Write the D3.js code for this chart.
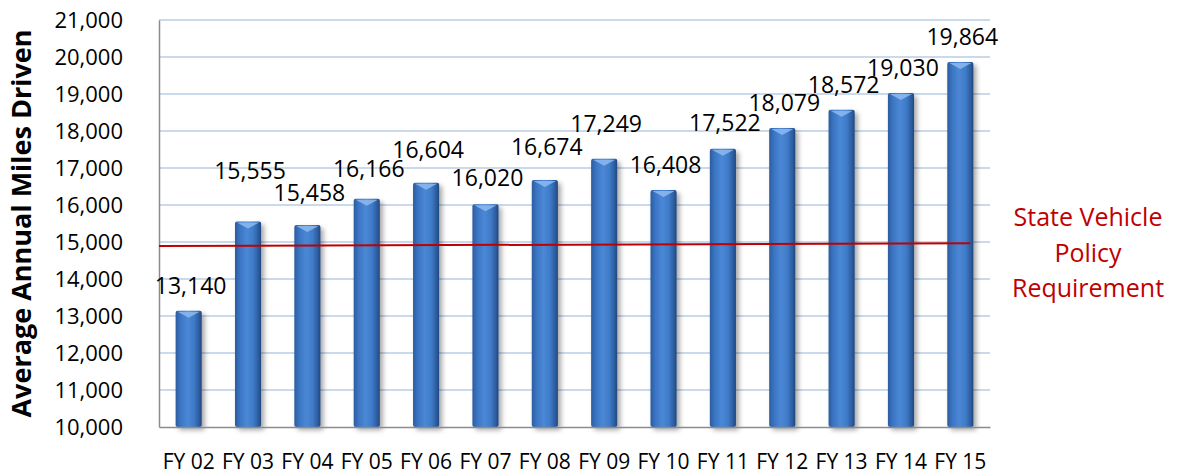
<!DOCTYPE html>
<html>
<head>
<meta charset="utf-8">
<script src="https://cdn.jsdelivr.net/npm/d3@7"></script>
<style>
  html, body { margin: 0; padding: 0; background: #ffffff; }
  svg { display: block; }
  text { font-family: "Open Sans", "Noto Sans", sans-serif; }
</style>
</head>
<body>
<div id="chart"></div>
<script>
// ---- data ----
const categories = ["FY 02","FY 03","FY 04","FY 05","FY 06","FY 07","FY 08","FY 09","FY 10","FY 11","FY 12","FY 13","FY 14","FY 15"];
const milesDriven = [13140, 15555, 15458, 16166, 16604, 16020, 16674, 17249, 16408, 17522, 18079, 18572, 19030, 19864];
const yTicks = [10000, 11000, 12000, 13000, 14000, 15000, 16000, 17000, 18000, 19000, 20000, 21000];
const policyLine = [14890, 14965]; // requirement line, start and end value
const yAxisTitle = "Average Annual Miles Driven";
const policyLabel = ["State Vehicle", "Policy", "Requirement"];

// ---- layout ----
const W = 1178, H = 474;
const plot = { left: 159, right: 990, top: 20, bottom: 427 };
// gap (px) between each bar top and its value label baseline, as placed in the original
const labelLift = [17, 42, 24, 22, 25, 18, 25, 27, 17, 18, 17, 17, 17, 17];

const svg = d3.select("#chart").append("svg").attr("width", W).attr("height", H);
const defs = svg.append("defs");

const grad = defs.append("linearGradient").attr("id", "barGrad")
  .attr("x1", "0%").attr("x2", "100%").attr("y1", "0%").attr("y2", "0%");
[["0%", "#2b5c9e"], ["18%", "#3a74c2"], ["45%", "#4a88d6"], ["70%", "#3f7bc8"], ["90%", "#2c5c9d"], ["100%", "#1f477f"]]
  .forEach(([o, c]) => grad.append("stop").attr("offset", o).attr("stop-color", c));

const shadow = defs.append("filter").attr("id", "shadow")
  .attr("x", "-30%").attr("y", "-10%").attr("width", "170%").attr("height", "130%");
shadow.append("feDropShadow").attr("dx", 3).attr("dy", 3).attr("stdDeviation", 2.5)
  .attr("flood-color", "#000").attr("flood-opacity", 0.35);

const x = d3.scaleBand().domain(categories).range([plot.left, plot.right])
  .paddingInner(0.56).paddingOuter(0.28);
const y = d3.scaleLinear().domain([10000, 21000]).range([plot.bottom, plot.top]);

// gridlines
svg.append("g").selectAll("line").data(yTicks.filter(t => t > 10000)).join("line")
  .attr("x1", plot.left).attr("x2", plot.right)
  .attr("y1", d => y(d)).attr("y2", d => y(d))
  .attr("stroke", "#b8cce4").attr("stroke-width", 1.6);

// y axis
const yAxis = svg.append("g").attr("transform", `translate(${plot.left},0)`)
  .call(d3.axisLeft(y).tickValues(yTicks).tickSize(0).tickPadding(36).tickFormat(d3.format(",")));
yAxis.select(".domain").attr("stroke", "#8c8c8c").attr("stroke-width", 1.5);
yAxis.selectAll("text").attr("font-size", 22).attr("fill", "#000")
  .style("font-family", "'Open Sans', sans-serif");

// bars
const bars = svg.append("g");
bars.selectAll("rect").data(milesDriven).join("rect")
  .attr("x", (d, i) => x(categories[i]))
  .attr("y", d => y(d))
  .attr("width", x.bandwidth())
  .attr("height", d => plot.bottom - y(d))
  .attr("rx", 2)
  .attr("fill", "url(#barGrad)")
  .attr("filter", "url(#shadow)");

// top highlight caps
bars.selectAll("path.cap").data(milesDriven).join("path").attr("class", "cap")
  .attr("d", (d, i) => {
    const x0 = x(categories[i]), w = x.bandwidth(), t = y(d);
    return `M${x0 + 2},${t + 1} L${x0 + w - 2},${t + 1} L${x0 + w / 2},${t + 7} Z`;
  })
  .attr("fill", "#8dbaf0").attr("opacity", 0.85);

// x axis
const xAxis = svg.append("g").attr("transform", `translate(0,${plot.bottom})`)
  .call(d3.axisBottom(x).tickSize(0).tickPadding(27));
xAxis.select(".domain").attr("stroke", "#8c8c8c").attr("stroke-width", 1.5);
xAxis.selectAll("text").attr("font-size", 21).attr("fill", "#000")
  .style("font-family", "'Open Sans', sans-serif");

// policy line
const lastCat = categories[categories.length - 1];
svg.append("line")
  .attr("x1", plot.left).attr("x2", x(lastCat) + x.bandwidth() - 3)
  .attr("y1", y(policyLine[0])).attr("y2", y(policyLine[1]))
  .attr("stroke", "#c00000").attr("stroke-width", 2);

// value labels
svg.append("g").selectAll("text").data(milesDriven).join("text")
  .attr("x", (d, i) => x(categories[i]) + x.bandwidth() / 2 + 2)
  .attr("y", (d, i) => y(d) - labelLift[i])
  .attr("text-anchor", "middle")
  .attr("font-size", 23).attr("fill", "#000")
  .text(d => d3.format(",")(d));

// y axis title
svg.append("text")
  .attr("transform", `translate(31,223.5) rotate(-90)`)
  .attr("text-anchor", "middle")
  .attr("font-size", 27).attr("font-weight", "bold").attr("fill", "#000")
  .text(yAxisTitle);

// policy label
svg.append("g").selectAll("text").data(policyLabel).join("text")
  .attr("x", 1088)
  .attr("y", (d, i) => 226 + i * 35.5)
  .attr("text-anchor", "middle")
  .attr("font-size", 25).attr("fill", "#c00000")
  .text(d => d);
</script>
</body>
</html>
